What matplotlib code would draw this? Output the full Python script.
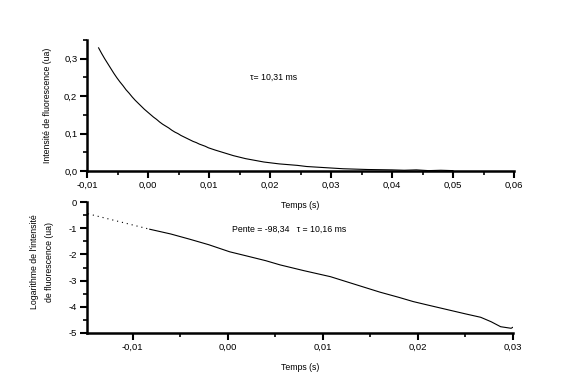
import matplotlib
matplotlib.use("Agg")
import matplotlib.pyplot as plt
from matplotlib.ticker import MultipleLocator, FuncFormatter

plt.rcParams['font.family'] = ['Liberation Sans', 'DejaVu Sans']
plt.rcParams['font.size'] = 6.3

# fluorescence decay
t_decay = [-0.0081, -0.0076, -0.0071, -0.0066, -0.0061, -0.0056, -0.0051, -0.0046,
           -0.0041, -0.0036, -0.0031, -0.0026, -0.0021, -0.0016, -0.0011, -0.0006,
           -0.0001, 0.0004, 0.0009, 0.0014, 0.0019, 0.0024, 0.0029, 0.0034,
           0.0039, 0.0044, 0.0049, 0.0054, 0.0059, 0.0064, 0.0069, 0.0074,
           0.0079, 0.0084, 0.0089, 0.0094, 0.0099, 0.0110, 0.0120, 0.0130,
           0.0140, 0.0150, 0.0160, 0.0170, 0.0180, 0.0190, 0.0200, 0.0215,
           0.0230, 0.0245, 0.0260, 0.0280, 0.0300, 0.0320, 0.0340, 0.0360,
           0.0380, 0.0400, 0.0420, 0.0440, 0.0460, 0.0480, 0.0500]
intensity = [0.329, 0.314, 0.300, 0.287, 0.274, 0.261, 0.249, 0.238,
             0.228, 0.217, 0.208, 0.198, 0.189, 0.181, 0.173, 0.165,
             0.158, 0.151, 0.144, 0.138, 0.131, 0.125, 0.120, 0.115,
             0.109, 0.104, 0.100, 0.095, 0.091, 0.087, 0.083, 0.079,
             0.076, 0.072, 0.069, 0.066, 0.062, 0.056, 0.051, 0.046,
             0.041, 0.037, 0.033, 0.030, 0.027, 0.024, 0.022, 0.019,
             0.017, 0.015, 0.012, 0.010, 0.008, 0.006, 0.005, 0.004,
             0.0035, 0.003, 0.002, 0.003, 0.001, 0.002, 0.001]

# log of intensity
t_log = [-0.0082, -0.0060, -0.0040, -0.0020, 0.0002, 0.0020, 0.0040, 0.0055,
         0.0080, 0.0108, 0.0130, 0.0160, 0.0180, 0.0195, 0.0210, 0.0230,
         0.0250, 0.0266, 0.0277, 0.0287, 0.0298, 0.0301]
log_int = [-1.04, -1.22, -1.42, -1.63, -1.90, -2.06, -2.24, -2.40,
           -2.62, -2.85, -3.10, -3.44, -3.64, -3.80, -3.93, -4.10,
           -4.27, -4.40, -4.57, -4.76, -4.82, -4.76]

# dotted extension of the fit before the data starts
t_fit = [-0.0147, -0.0082]
log_fit = [-0.45, -1.04]

tau_txt = "\u03c4= 10,31 ms"
fit_txt = "Pente = -98,34   \u03c4 = 10,16 ms"


def comma(fmt):
    return FuncFormatter(lambda v, p: (fmt % v).replace('.', ',').replace('-0,00', '0,00'))


def style(ax):
    ax.patch.set_visible(False)
    for s in ['top', 'right']:
        ax.spines[s].set_visible(False)
    for s in ['left', 'bottom']:
        ax.spines[s].set_linewidth(1.8)
    ax.tick_params(which='major', direction='out', length=5, width=1.5, pad=2, labelsize=6.8)
    ax.tick_params(which='minor', direction='out', length=3, width=1.2)


fig = plt.figure(figsize=(5.71, 3.91), dpi=100)

ax1 = fig.add_axes([87 / 571, 1 - 171 / 391, 427 / 571, 131 / 391])
ax1.plot(t_decay, intensity, color='black', lw=0.8)
ax1.set_xlim(-0.01, 0.06)
ax1.set_ylim(0, 0.35)
ax1.xaxis.set_major_locator(MultipleLocator(0.01))
ax1.xaxis.set_minor_locator(MultipleLocator(0.005))
ax1.yaxis.set_major_locator(MultipleLocator(0.1))
ax1.yaxis.set_minor_locator(MultipleLocator(0.05))
ax1.xaxis.set_major_formatter(comma('%.2f'))
ax1.yaxis.set_major_formatter(comma('%.1f'))
style(ax1)
ax1.text(0.01677, 0.249, tau_txt, va='center', ha='left')
fig.text(300 / 571, 1 - 205 / 391, "Temps (s)", ha='center', va='center')
ax1.text(-40 / 427, 0.5, "Intensit\u00e9 de fluorescence (ua)", transform=ax1.transAxes,
         rotation=90, ha='center', va='center')

ax2 = fig.add_axes([87 / 571, 1 - 333 / 391, 426 / 571, 131 / 391])
ax2.plot(t_fit, log_fit, color='black', lw=0.8, ls=(0, (1, 3.5)))
ax2.plot(t_log, log_int, color='black', lw=0.8)
ax2.set_xlim(-0.0148, 0.03)
ax2.set_ylim(-5, 0)
ax2.xaxis.set_major_locator(MultipleLocator(0.01))
ax2.xaxis.set_minor_locator(MultipleLocator(0.005))
ax2.yaxis.set_major_locator(MultipleLocator(1))
ax2.yaxis.set_minor_locator(MultipleLocator(0.5))
ax2.xaxis.set_major_formatter(comma('%.2f'))
ax2.yaxis.set_major_formatter(FuncFormatter(lambda v, p: '%d' % round(v)))
style(ax2)
ax2.text(0.00042, -1.03, fit_txt, va='center', ha='left')
fig.text(300 / 571, 1 - 367 / 391, "Temps (s)", ha='center', va='center')
fig.text(42 / 571, 1 - 262 / 391, "Logarithme de l'intensit\u00e9\nde fluorescence (ua)",
         rotation=90, ha='center', va='center', multialignment='center', linespacing=1.9)

fig.savefig("out.png", dpi=100)
